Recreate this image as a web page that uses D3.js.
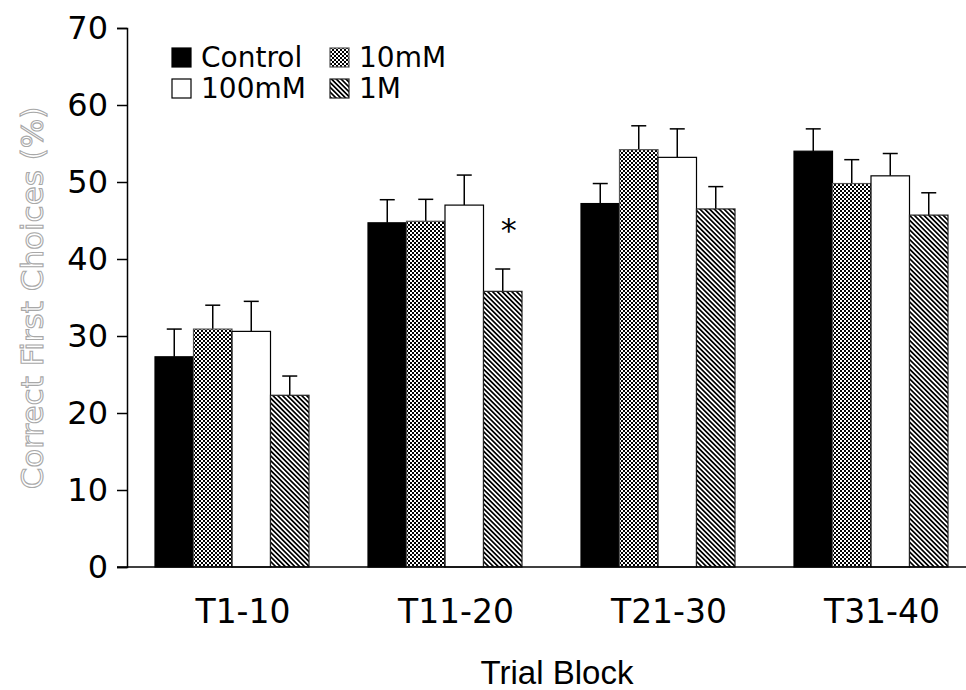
<!DOCTYPE html>
<html>
<head>
<meta charset="utf-8">
<script src="https://cdn.jsdelivr.net/npm/d3@7"></script>
<style>
  body { margin: 0; background: #fff; }
</style>
</head>
<body>
<div id="chart"></div>
<script>
// Trial blocks and treatment groups
const blocks = ["T1-10", "T11-20", "T21-30", "T31-40"];
const series = ["Control", "10mM", "100mM", "1M"];

// Mean % correct first choices, one array per treatment
const controlVals = [27.3, 44.7, 47.2, 54.0];
const mM10Vals = [30.9, 44.9, 54.2, 49.8];
const mM100Vals = [30.6, 47.0, 53.2, 50.8];
const m1Vals = [22.3, 35.8, 46.5, 45.7];

// Error bar sizes (upper only)
const controlErr = [3.6, 3.0, 2.6, 2.9];
const mM10Err = [3.1, 2.85, 3.1, 3.1];
const mM100Err = [3.9, 3.9, 3.7, 2.9];
const m1Err = [2.5, 2.9, 2.9, 2.9];

const yTicks = [0, 10, 20, 30, 40, 50, 60, 70];
const significant = [{ block: "T11-20", series: "1M" }];

const width = 966;
const height = 690;

const values = [controlVals, mM10Vals, mM100Vals, m1Vals];
const errors = [controlErr, mM10Err, mM100Err, m1Err];
const data = blocks.map((b, i) => ({
  block: b,
  bars: series.map((s, j) => ({ series: s, value: values[j][i], err: errors[j][i] })),
}));

const svg = d3
  .select("#chart")
  .append("svg")
  .attr("width", width)
  .attr("height", height)
  .attr("viewBox", `0 0 ${width} ${height}`);

// patterns
const defs = svg.append("defs");
const checker = defs
  .append("pattern")
  .attr("id", "checker")
  .attr("patternUnits", "userSpaceOnUse")
  .attr("width", 4)
  .attr("height", 4);
checker.append("rect").attr("width", 4).attr("height", 4).attr("fill", "#fff");
checker.append("rect").attr("width", 2).attr("height", 2).attr("fill", "#000");
checker.append("rect").attr("x", 2).attr("y", 2).attr("width", 2).attr("height", 2).attr("fill", "#000");

const hatch = defs
  .append("pattern")
  .attr("id", "hatch")
  .attr("patternUnits", "userSpaceOnUse")
  .attr("width", 3.4)
  .attr("height", 3.4)
  .attr("patternTransform", "rotate(-45)");
hatch.append("rect").attr("width", 3.4).attr("height", 3.4).attr("fill", "#fff");
hatch.append("rect").attr("width", 1.7).attr("height", 3.4).attr("fill", "#000");

const fills = {
  Control: "#000",
  "10mM": "url(#checker)",
  "100mM": "#fff",
  "1M": "url(#hatch)",
};
const strokes = {
  Control: "#000",
  "10mM": "#555",
  "100mM": "#000",
  "1M": "#222",
};

// scales
const y = d3.scaleLinear().domain([0, 70]).range([567, 28]);

const x0 = d3
  .scaleBand()
  .domain(blocks)
  .range([155, 948])
  .paddingInner(59 / 213)
  .paddingOuter(0);

const x1 = d3.scaleBand().domain(series).range([0, x0.bandwidth()]);

// y axis
const yAxis = svg
  .append("g")
  .attr("transform", "translate(127,0)")
  .call(d3.axisLeft(y).tickValues(yTicks).tickSize(10).tickPadding(9));
yAxis.select(".domain").attr("stroke", "#000").attr("stroke-width", 1.5);
yAxis.selectAll(".tick line").attr("stroke", "#000").attr("stroke-width", 1.5);
yAxis
  .selectAll(".tick text")
  .attr("font-family", "DejaVu Sans")
  .attr("font-size", 32)
  .attr("fill", "#000");

// bars
const groups = svg
  .selectAll(".group")
  .data(data)
  .enter()
  .append("g")
  .attr("class", "group")
  .attr("transform", (d) => `translate(${x0(d.block)},0)`);

// error bars first so the bar covers the lower part
groups
  .selectAll(".err")
  .data((d) => d.bars)
  .enter()
  .append("g")
  .attr("class", "err")
  .each(function (d) {
    const cx = x1(d.series) + x1.bandwidth() / 2;
    const g = d3.select(this);
    g.append("line")
      .attr("x1", cx)
      .attr("x2", cx)
      .attr("y1", y(d.value))
      .attr("y2", y(d.value + d.err))
      .attr("stroke", "#000")
      .attr("stroke-width", 1.5);
    g.append("line")
      .attr("x1", cx - 7.5)
      .attr("x2", cx + 7.5)
      .attr("y1", y(d.value + d.err))
      .attr("y2", y(d.value + d.err))
      .attr("stroke", "#000")
      .attr("stroke-width", 1.5);
  });

groups
  .selectAll("rect")
  .data((d) => d.bars)
  .enter()
  .append("rect")
  .attr("x", (d) => x1(d.series))
  .attr("y", (d) => y(d.value))
  .attr("width", x1.bandwidth())
  .attr("height", (d) => y(0) - y(d.value))
  .attr("fill", (d) => fills[d.series])
  .attr("stroke", (d) => strokes[d.series])
  .attr("stroke-width", 1.2);

// significance marker
significant.forEach((s) => {
  const bar = data.find((d) => d.block === s.block).bars.find((b) => b.series === s.series);
  svg
    .append("text")
    .attr("x", x0(s.block) + x1(s.series) + x1.bandwidth() / 2 + 6)
    .attr("y", y(bar.value + bar.err) - 28)
    .attr("text-anchor", "middle")
    .attr("font-family", "DejaVu Sans")
    .attr("font-size", 32)
    .text("*");
});

// x axis line
svg
  .append("line")
  .attr("x1", 117)
  .attr("x2", width)
  .attr("y1", y(0))
  .attr("y2", y(0))
  .attr("stroke", "#000")
  .attr("stroke-width", 1.5);

// x labels
svg
  .selectAll(".xlabel")
  .data(blocks)
  .enter()
  .append("text")
  .attr("class", "xlabel")
  .attr("x", (d) => x0(d) + x0.bandwidth() / 2 + 11)
  .attr("y", 623)
  .attr("text-anchor", "middle")
  .attr("font-family", "DejaVu Sans")
  .attr("font-size", 33)
  .attr("fill", "#000")
  .text((d) => d);

// axis titles
svg
  .append("text")
  .attr("x", 557)
  .attr("y", 684)
  .attr("text-anchor", "middle")
  .attr("font-family", "Liberation Sans")
  .attr("font-size", 33)
  .attr("fill", "#000")
  .text("Trial Block");

svg
  .append("text")
  .attr("transform", "translate(43,298) rotate(-90)")
  .attr("text-anchor", "middle")
  .attr("font-family", "DejaVu Sans")
  .attr("font-size", 31)
  .attr("fill", "#fff")
  .attr("stroke", "#a8a8a8")
  .attr("stroke-width", 1.1)
  .text("Correct First Choices (%)");

// legend
const legendCols = [172, 330];
const legendRows = [67, 98];
const legend = svg
  .selectAll(".legend")
  .data(series)
  .enter()
  .append("g")
  .attr("class", "legend")
  .attr("transform", (d, i) => `translate(${legendCols[i % 2]},${legendRows[Math.floor(i / 2)]})`);

legend
  .append("rect")
  .attr("x", 0)
  .attr("y", -19)
  .attr("width", 19)
  .attr("height", 19)
  .attr("fill", (d) => fills[d])
  .attr("stroke", (d) => strokes[d])
  .attr("stroke-width", 1.2);

legend
  .append("text")
  .attr("x", 29)
  .attr("y", 0)
  .attr("font-family", "DejaVu Sans")
  .attr("font-size", 28)
  .attr("fill", "#000")
  .text((d) => d);
</script>
</body>
</html>
